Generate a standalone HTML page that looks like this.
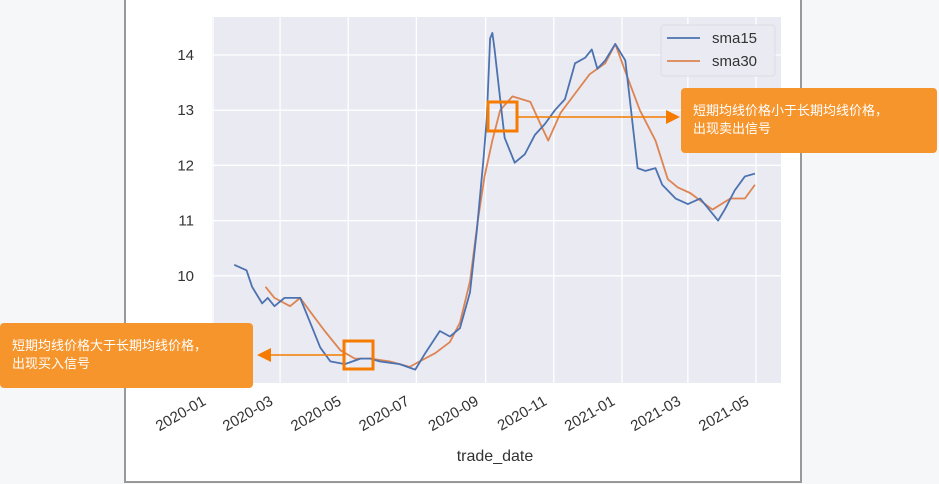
<!DOCTYPE html>
<html><head><meta charset="utf-8"><style>
body{margin:0;width:939px;height:484px;background:#f6f7f9;overflow:hidden;font-family:"Liberation Sans","DejaVu Sans","Noto Sans CJK SC",sans-serif}
svg{position:absolute;left:0;top:0}
</style></head><body>
<svg width="939" height="484">
<g id="root"></g>
</svg>
<script>
const s15Days=[19,30,35,44,49,55,64,78,87,96,105,118,132,141,149,167,181,190,203,212,221,230,236,242,245,248,250,252,257,261,270,279,288,297,306,315,324,333,339,344,351,360,369,373,380,387,396,402,414,425,436,452,458,467,476,485];
const s15Vals=[10.2,10.1,9.8,9.5,9.6,9.45,9.6,9.6,9.15,8.7,8.45,8.4,8.5,8.5,8.45,8.4,8.3,8.6,9.0,8.9,9.05,9.7,10.8,12.1,12.85,14.3,14.4,14.1,13.2,12.5,12.05,12.2,12.55,12.75,13.0,13.2,13.85,13.95,14.1,13.75,13.9,14.2,13.9,13.2,11.95,11.9,11.95,11.65,11.4,11.3,11.4,11.0,11.2,11.55,11.8,11.85];
const s30Days=[47,55,69,78,87,100,114,127,141,158,176,185,199,212,221,230,237,243,250,257,268,284,293,300,311,324,337,351,360,369,382,396,407,416,427,447,463,476,485];
const s30Vals=[9.8,9.6,9.45,9.6,9.35,9.0,8.65,8.5,8.5,8.45,8.35,8.45,8.6,8.8,9.15,9.9,11.0,11.8,12.45,13.0,13.25,13.15,12.75,12.45,12.95,13.3,13.65,13.85,14.2,13.7,13.0,12.45,11.75,11.6,11.5,11.2,11.4,11.4,11.65];
const yTicks=[10,11,12,13,14];
const xTickDays=[0,60,121,182,244,305,366,425,486];
const xTickLabels=["2020-01","2020-03","2020-05","2020-07","2020-09","2020-11","2021-01","2021-03","2021-05"];

const NS="http://www.w3.org/2000/svg";
const root=document.getElementById('root');
const X=d=>213+d*1.1174;
const Y=v=>55+(14-v)*55.2;
function mk(tag,attrs,parent){const e=document.createElementNS(NS,tag);for(const k in attrs)e.setAttribute(k,attrs[k]);(parent||root).appendChild(e);return e;}

const fig=mk('rect',{x:125,y:-2,width:676,height:484,fill:'#fff',stroke:'#999','stroke-width':2});


const plot=mk('rect',{x:212,y:17,width:569,height:366,fill:'#eaeaf2'});



yTicks.forEach(v=>{
  const g=mk('line',{x1:212,x2:781,y1:Y(v),y2:Y(v),stroke:'#fff','stroke-width':1.3});
  
  
  const t=mk('text',{x:194,y:Y(v)+5,'text-anchor':'end','font-size':15,fill:'#333'});
  t.textContent=v;
  
  
});
xTickDays.forEach((d,i)=>{
  const g=mk('line',{x1:X(d),x2:X(d),y1:17,y2:383,stroke:'#fff','stroke-width':1.3});
  
  
  const ax=X(d)-6, ay=404;
  const t=mk('text',{x:ax,y:ay,'text-anchor':'end','font-size':15,fill:'#333',transform:`rotate(-30 ${ax} ${ay})`});
  t.textContent=xTickLabels[i];
  
  
});
const xl=mk('text',{x:495,y:461,'text-anchor':'middle','font-size':16,fill:'#333'});
xl.textContent='trade_date';



function line(days,vals,color,name){
  const p=mk('polyline',{points:days.map((d,i)=>X(d)+','+Y(vals[i])).join(' '),fill:'none',stroke:color,'stroke-width':1.8,'stroke-linejoin':'round'});
  
  
}
line(s30Days,s30Vals,'#dd8452','sma30-line');
line(s15Days,s15Vals,'#4c72b0','sma15-line');

const lg=mk('g',{});


mk('rect',{x:661,y:25,width:114,height:51,rx:3,fill:'#eaeaf2',stroke:'#dcdce6'},lg);
[['sma15','#4c72b0',38],['sma30','#dd8452',61]].forEach(([n,c,y])=>{
  const e=mk('g',{},lg);
  
  
  mk('line',{x1:667,x2:700,y1:y,y2:y,stroke:c,'stroke-width':1.8},e);
  const t=mk('text',{x:712,y:y+5,'font-size':15,fill:'#333'},e);t.textContent=n;
});

function ann(name,sq,lineY,x1,x2,headTip,dir,box,lines){
  const g=mk('g',{});
  
  
  mk('rect',{x:sq[0],y:sq[1],width:sq[2],height:sq[3],fill:'none',stroke:'#f57c00','stroke-width':3},g);
  mk('line',{x1:x1,x2:x2,y1:lineY,y2:lineY,stroke:'#f57c00','stroke-width':1.5},g);
  const h=headTip, b=h-dir*14;
  mk('polygon',{points:`${h},${lineY} ${b},${lineY-7} ${b},${lineY+7}`,fill:'#f57c00'},g);
  mk('rect',{x:box[0],y:box[1],width:box[2],height:box[3],rx:4,fill:'#f7952d'},g);
  lines.forEach((s,i)=>{const t=mk('text',{x:box[0]+12,y:box[1]+27+i*18,'font-size':13,fill:'#fff','font-family':'"Liberation Sans","Noto Sans CJK SC",sans-serif'},g);t.textContent=s;});
}
ann('buy-signal-annotation',[344,341,29,28],355,344,262,257,-1,[0,323,253,65],['短期均线价格大于长期均线价格，','出现买入信号']);
ann('sell-signal-annotation',[488,102,29,29],117,517,666,680,1,[681,88,256,65],['短期均线价格小于长期均线价格，','出现卖出信号']);
</script>
</body></html>
